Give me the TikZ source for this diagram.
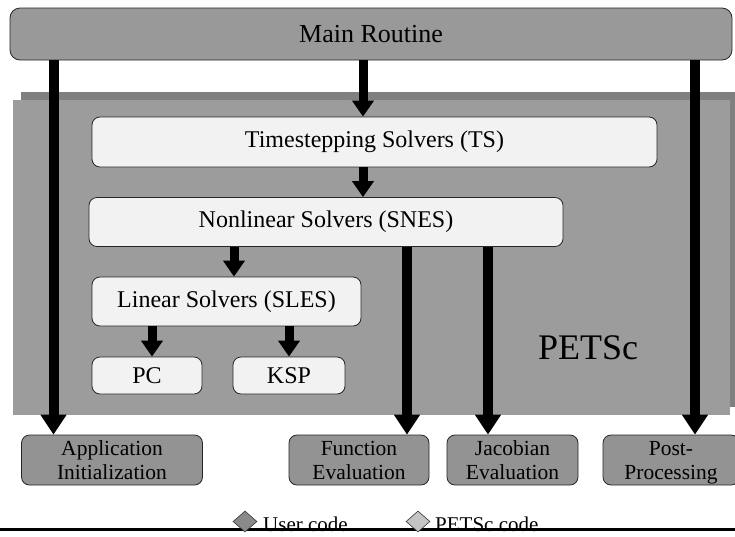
\documentclass[tikz,border=0pt]{standalone}
\usepackage{fontspec}
\setmainfont{Liberation Serif}
\usetikzlibrary{arrows.meta,shapes.geometric}
\definecolor{boxgray}{HTML}{999999}
\definecolor{petscgray}{HTML}{9C9C9C}
\definecolor{shadowgray}{HTML}{808080}
\definecolor{usergray}{HTML}{939393}
\definecolor{innerfill}{HTML}{F2F2F2}
\definecolor{legdark}{HTML}{8A8A8A}
\definecolor{leglight}{HTML}{C4C4C4}
\tikzset{
  routine/.style={draw=black!85, line width=0.8pt, fill=boxgray, rounded corners=10pt,
    font=\fontsize{26}{30}\selectfont, inner sep=0pt},
  petscbox/.style={draw=black!85, line width=0.8pt, fill=innerfill, rounded corners=8pt,
    font=\fontsize{24}{28}\selectfont, inner sep=0pt},
  userbox/.style={draw=black!85, line width=0.8pt, fill=usergray, rounded corners=8pt,
    font=\fontsize{21.5}{24}\selectfont, align=center, inner sep=0pt, minimum height=50pt},
  longarr/.style={line width=10pt, -{Triangle[width=25pt,length=20pt]}},
  shortarr/.style={line width=9pt, -{Triangle[width=21pt,length=16pt]}},
  legdiamond/.style={diamond, draw=black!80, line width=0.6pt, minimum width=24pt, minimum height=21pt, inner sep=0pt},
  legtext/.style={font=\fontsize{21}{24}\selectfont, anchor=base west, inner sep=0pt}
}
\begin{document}
\begin{tikzpicture}[x=1pt,y=-1pt]
\useasboundingbox (0,0) rectangle (735,536);
% PETSc background
\fill[shadowgray] (21,92) rectangle (735,407);
\fill[petscgray] (13,100) rectangle (730,415);
\node[font=\fontsize{36}{40}\selectfont] (petsc) at (588,348) {PETSc};
% Main routine
\node[routine, minimum width=722pt, minimum height=52pt] (main) at (371,34) {Main Routine};
% PETSc boxes
\node[petscbox, minimum width=565pt, minimum height=50pt] (ts) at (374.5,142) {Timestepping Solvers (TS)};
\node[petscbox, minimum width=474pt, minimum height=49pt] (snes) at (326,222) {Nonlinear Solvers (SNES)};
\node[petscbox, minimum width=269pt, minimum height=49pt] (sles) at (226.5,301.5) {Linear Solvers (SLES)};
\node[petscbox, minimum width=110pt, minimum height=37pt] (pc) at (147,375.5) {PC};
\node[petscbox, minimum width=112pt, minimum height=37pt] (ksp) at (289,375.5) {KSP};
% user boxes
\node[userbox, minimum width=181pt] (app) at (112,460) {Application\\Initialization};
\node[userbox, minimum width=140pt] (func) at (359,460) {Function\\Evaluation};
\node[userbox, minimum width=131pt] (jac) at (512.5,460) {Jacobian\\Evaluation};
\node[userbox, minimum width=136pt] (post) at (671,460) {Post-\\\smash{Processing}};
% arrow columns
\coordinate (xa) at (53.5,0);
\coordinate (xm) at (363,0);
\coordinate (xp) at (695,0);
\coordinate (xs) at (234,0);
\coordinate (xpc) at (152,0);
\coordinate (xk) at (289,0);
\coordinate (xf) at (407,0);
\coordinate (xj) at (488,0);
\draw[longarr] (main.south -| xa) -- (app.north -| xa);
\draw[longarr] (main.south -| xp) -- (post.north -| xp);
\draw[shortarr] (main.south -| xm) -- (ts.north -| xm);
\draw[shortarr] (ts.south -| xm) -- (snes.north -| xm);
\draw[shortarr] (snes.south -| xs) -- (sles.north -| xs);
\draw[shortarr] (sles.south -| xpc) -- (pc.north -| xpc);
\draw[shortarr] (sles.south -| xk) -- (ksp.north -| xk);
\draw[longarr] (snes.south -| xf) -- (func.north -| xf);
\draw[longarr] (snes.south -| xj) -- (jac.north -| xj);
% legend
\node[legtext] (tUser) at (263,531) {User code};
\node[legtext] (tPetsc) at (435,531) {PETSc code};
\coordinate (lineL) at (0,529.5);
\coordinate (lineR) at (735,529.5);
\draw[line width=3pt] (lineL) -- (lineR);
\node[legdiamond, fill=legdark] (dUser) at (245,521.5) {};
\node[legdiamond, fill=leglight] (dPetsc) at (418,521.5) {};
\end{tikzpicture}
\end{document}
